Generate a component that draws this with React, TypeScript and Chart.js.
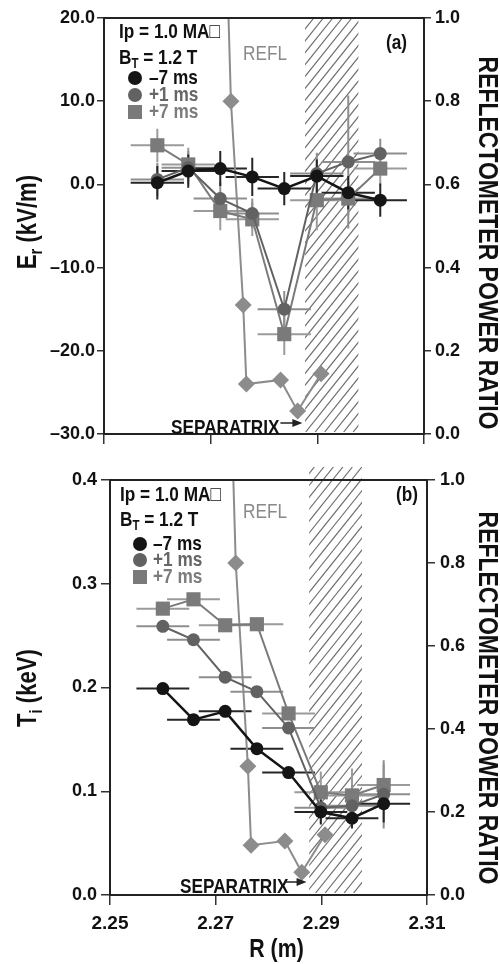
import React, { useEffect, useRef } from 'react';
import { Chart, registerables } from 'chart.js';

Chart.register(...registerables);

// ---------------- data ----------------
// major radius of the measurement channels (m)
const R_CHANNELS = [2.26, 2.2658, 2.2718, 2.2778, 2.2838, 2.2899, 2.2958, 2.3018];
const R_ERR = [0.005, 0.005, 0.005, 0.005, 0.005, 0.005, 0.005, 0.005];

// (a) radial electric field Er (kV/m)
const ER_M7 = [0.2, 1.6, 1.9, 0.9, -0.5, 1.0, -1.0, -1.9];
const ER_P1 = [0.6, 2.0, -1.7, -3.5, -15.0, 1.3, 2.7, 3.7];
const ER_P7 = [4.7, 2.4, -3.2, -4.2, -18.0, -1.9, -1.7, 1.9];
const ER_M7_ERR = [2.0, 2.0, 2.1, 2.3, 2.0, 2.0, 2.0, 2.0];
const ER_P1_ERR = [2.0, 2.0, 2.0, 1.8, 2.2, 2.5, 8.0, 1.8];
const ER_P7_ERR = [2.0, 2.0, 2.3, 2.0, 2.5, 3.6, 2.0, 2.0];

// (b) ion temperature Ti (keV)
const TI_M7 = [0.199, 0.169, 0.177, 0.141, 0.118, 0.08, 0.074, 0.088];
const TI_P1 = [0.259, 0.246, 0.21, 0.196, 0.161, 0.084, 0.086, 0.097];
const TI_P7 = [0.276, 0.285, 0.26, 0.261, 0.175, 0.099, 0.096, 0.106];
const TI_M7_ERR = [0.004, 0.004, 0.004, 0.004, 0.004, 0.012, 0.01, 0.018];
const TI_P1_ERR = [0.004, 0.004, 0.004, 0.004, 0.004, 0.015, 0.02, 0.033];
const TI_P7_ERR = [0.004, 0.004, 0.004, 0.004, 0.004, 0.02, 0.026, 0.02];

// reflectometer power ratio (right axis)
const REFL_R = [2.272, 2.2738, 2.2761, 2.2767, 2.2831, 2.2863, 2.2907];
const REFL_RATIO = [1.6, 0.8, 0.31, 0.12, 0.13, 0.055, 0.145];

// separatrix uncertainty band and arrow tip (m)
const SEPARATRIX_ZONE = [2.2877, 2.2977];
const SEPARATRIX_TIP = 2.2872;

// axes
const X_TICKS = [2.25, 2.27, 2.29, 2.31];
const X_TICK_LABELS = ['2.25', '2.27', '2.29', '2.31'];
const ER_TICKS = [-30, -20, -10, 0, 10, 20];
const ER_TICK_LABELS = ['\u201330.0', '\u201320.0', '\u201310.0', '0.0', '10.0', '20.0'];
const TI_TICKS = [0, 0.1, 0.2, 0.3, 0.4];
const TI_TICK_LABELS = ['0.0', '0.1', '0.2', '0.3', '0.4'];
const RATIO_TICKS = [0, 0.2, 0.4, 0.6, 0.8, 1.0];
const RATIO_TICK_LABELS = ['0.0', '0.2', '0.4', '0.6', '0.8', '1.0'];

const SERIES_LABELS = ['\u20137 ms', '+1 ms', '+7 ms'];

// ---------------- styles ----------------
const C_M7 = '#151515';
const C_P1 = '#626262';
const C_P7 = '#7a7a7a';
const C_REFL = '#8c8c8c';
const C_ERR_M7 = '#262626';
const C_ERR_P1 = '#8e8e8e';
const C_ERR_P7 = '#9b9b9b';

type FontInfo = { family: string; scaleX: number };
const FONT: FontInfo = { family: '"Liberation Sans", Arial, sans-serif', scaleX: 0.82 };

type Part = { t: string; sub?: boolean };

function drawRich(
  ctx: CanvasRenderingContext2D, fi: FontInfo, parts: Part[], x: number, y: number, size: number,
  o: { weight?: string; color?: string; align?: 'left' | 'center' | 'right'; rot?: number } = {}
) {
  const weight = o.weight ?? 'bold';
  ctx.save();
  ctx.translate(x, y);
  if (o.rot) ctx.rotate(o.rot);
  ctx.scale(fi.scaleX, 1);
  ctx.fillStyle = o.color ?? '#111';
  ctx.textBaseline = 'middle';
  ctx.textAlign = 'left';
  const fontFor = (p: Part) => `${weight} ${p.sub ? Math.round(size * 0.68) : size}px ${fi.family}`;
  let total = 0;
  const widths = parts.map((p) => { ctx.font = fontFor(p); const w = ctx.measureText(p.t).width; total += w; return w; });
  let cx = o.align === 'center' ? -total / 2 : o.align === 'right' ? -total : 0;
  parts.forEach((p, i) => {
    ctx.font = fontFor(p);
    ctx.fillText(p.t, cx, p.sub ? size * 0.3 : 0);
    cx += widths[i];
  });
  ctx.restore();
}

type Panel = {
  canvasH: number; padTop: number; leftW: number; rightW: number; xH: number;
  yMin: number; yMax: number; yTicks: number[]; yLabels: string[];
  m7: number[]; p1: number[]; p7: number[]; m7Err: number[]; p1Err: number[]; p7Err: number[];
  showX: boolean; yTickLen: number; yTickPad: number; y2TickLen: number; y2TickPad: number;
  hatchExt: number;
  tag: string; tagRight: number; tagY: number;
  legX: number; ipY: number; btY: number; legMarkX: number; legRows: number[]; legTextX: number;
  reflX: number; reflY: number;
  sepX: number; sepY: number;
  leftTitle: Part[]; leftTitleX: number; leftTitleY: number;
  rightTitleX: number; rightTitleY: number;
  xTitle: boolean;
};

const TOP: Panel = {
  canvasH: 460, padTop: 18, leftW: 104, rightW: 76, xH: 26,
  yMin: -30, yMax: 20, yTicks: ER_TICKS, yLabels: ER_TICK_LABELS,
  m7: ER_M7, p1: ER_P1, p7: ER_P7, m7Err: ER_M7_ERR, p1Err: ER_P1_ERR, p7Err: ER_P7_ERR,
  showX: false, yTickLen: 7, yTickPad: 2, y2TickLen: 7, y2TickPad: 4,
  hatchExt: 0,
  tag: '(a)', tagRight: 407, tagY: 43,
  legX: 119, ipY: 32, btY: 58, legMarkX: 135, legRows: [78, 95, 112], legTextX: 149,
  reflX: 243, reflY: 54,
  sepX: 171, sepY: 428,
  leftTitle: [{ t: 'E' }, { t: 'r', sub: true }, { t: ' (kV/m)' }], leftTitleX: 29, leftTitleY: 222,
  rightTitleX: 487, rightTitleY: 243,
  xTitle: false,
};

const BOTTOM: Panel = {
  canvasH: 504, padTop: 20, leftW: 110, rightW: 73, xH: 69,
  yMin: 0, yMax: 0.4, yTicks: TI_TICKS, yLabels: TI_TICK_LABELS,
  m7: TI_M7, p1: TI_P1, p7: TI_P7, m7Err: TI_M7_ERR, p1Err: TI_P1_ERR, p7Err: TI_P7_ERR,
  showX: true, yTickLen: 9, yTickPad: 4, y2TickLen: 8, y2TickPad: 5,
  hatchExt: 13,
  tag: '(b)', tagRight: 418, tagY: 35,
  legX: 120, ipY: 35, btY: 60, legMarkX: 140, legRows: [84, 100, 117], legTextX: 153,
  reflX: 243, reflY: 52,
  sepX: 180, sepY: 427,
  leftTitle: [{ t: 'T' }, { t: 'i', sub: true }, { t: ' (keV)' }], leftTitleX: 29, leftTitleY: 228,
  rightTitleX: 487, rightTitleY: 238,
  xTitle: true,
};

function decorPlugin(p: Panel, fi: FontInfo) {
  return {
    id: 'decor',
    beforeDatasetsDraw(chart: any) {
      const { ctx, chartArea: a, scales } = chart;
      const xs = scales.x;
      // hatched separatrix band
      const x1 = xs.getPixelForValue(SEPARATRIX_ZONE[0]);
      const x2 = xs.getPixelForValue(SEPARATRIX_ZONE[1]);
      const top = a.top - p.hatchExt;
      const bot = a.bottom - 2;
      const h = bot - top;
      ctx.save();
      ctx.beginPath();
      ctx.rect(x1, top, x2 - x1, h);
      ctx.clip();
      ctx.strokeStyle = '#707070';
      ctx.lineWidth = 1.2;
      ctx.beginPath();
      for (let k = x1 - h * 1.1; k < x2 + 10; k += 9.5) {
        ctx.moveTo(k, bot);
        ctx.lineTo(k + h * 0.8, top);
      }
      ctx.stroke();
      ctx.restore();
      // error bars
      ctx.save();
      ctx.lineWidth = 2;
      const ds = chart.data.datasets;
      for (let i = ds.length - 1; i >= 0; i--) {
        const d = ds[i];
        if (!d.yErr) continue;
        const ys = scales[d.yAxisID];
        ctx.strokeStyle = d.errColor;
        ctx.beginPath();
        d.data.forEach((pt: any, j: number) => {
          const px = xs.getPixelForValue(pt.x);
          const py = ys.getPixelForValue(pt.y);
          ctx.moveTo(xs.getPixelForValue(pt.x - d.xErr[j]), py);
          ctx.lineTo(xs.getPixelForValue(pt.x + d.xErr[j]), py);
          ctx.moveTo(px, ys.getPixelForValue(pt.y - d.yErr[j]));
          ctx.lineTo(px, ys.getPixelForValue(pt.y + d.yErr[j]));
        });
        ctx.stroke();
      }
      ctx.restore();
    },
    afterDatasetsDraw(chart: any) {
      const { ctx, chartArea: a, scales } = chart;
      const xs = scales.x;
      // frame
      ctx.save();
      ctx.strokeStyle = '#222';
      ctx.lineWidth = 2;
      ctx.strokeRect(a.left, a.top, a.right - a.left, a.bottom - a.top);
      ctx.restore();
      // parameters
      drawRich(ctx, fi, [{ t: 'Ip = 1.0 MA\u25A1' }], p.legX, p.ipY, 21);
      drawRich(ctx, fi, [{ t: 'B' }, { t: 'T', sub: true }, { t: ' = 1.2 T' }], p.legX, p.btY, 21);
      // legend
      const legColors = [C_M7, C_P1, C_P7];
      const legText = ['#111', '#666', '#7c7c7c'];
      p.legRows.forEach((yy, i) => {
        ctx.save();
        ctx.fillStyle = legColors[i];
        ctx.beginPath();
        if (i < 2) ctx.arc(p.legMarkX, yy, 7, 0, Math.PI * 2);
        else ctx.rect(p.legMarkX - 7, yy - 7, 14, 14);
        ctx.fill();
        ctx.restore();
        drawRich(ctx, fi, [{ t: SERIES_LABELS[i] }], p.legTextX, yy, 21, { color: legText[i] });
      });
      // labels
      drawRich(ctx, fi, [{ t: 'REFL' }], p.reflX, p.reflY, 21, { color: '#8a8a8a', weight: 'normal' });
      drawRich(ctx, fi, [{ t: p.tag }], p.tagRight, p.tagY, 21, { align: 'right' });
      // separatrix arrow
      drawRich(ctx, fi, [{ t: 'SEPARATRIX' }], p.sepX, p.sepY, 21);
      const tip = xs.getPixelForValue(SEPARATRIX_TIP);
      const ay = p.sepY - 5;
      ctx.save();
      ctx.strokeStyle = '#222';
      ctx.fillStyle = '#222';
      ctx.lineWidth = 1.5;
      ctx.beginPath();
      ctx.moveTo(tip - 22, ay);
      ctx.lineTo(tip - 8, ay);
      ctx.stroke();
      ctx.beginPath();
      ctx.moveTo(tip, ay);
      ctx.lineTo(tip - 10, ay - 4);
      ctx.lineTo(tip - 10, ay + 4);
      ctx.closePath();
      ctx.fill();
      ctx.restore();
      // axis titles
      drawRich(ctx, fi, p.leftTitle, p.leftTitleX, p.leftTitleY, 27, { align: 'center', rot: -Math.PI / 2 });
      drawRich(ctx, fi, [{ t: 'REFLECTOMETER POWER RATIO' }], p.rightTitleX, p.rightTitleY, 28, { align: 'center', rot: Math.PI / 2 });
      if (p.xTitle) {
        drawRich(ctx, fi, [{ t: 'R (m)' }], (a.left + a.right) / 2 + 8, p.canvasH - 14, 26, { align: 'center' });
      }
    },
  };
}

function makeConfig(p: Panel, fi: FontInfo): any {
  const tickFont = (size: number) => ({ family: fi.family, size, weight: 'bold' });
  const grid = (len: number) => ({ drawOnChartArea: false, drawTicks: true, tickLength: len, color: '#333', lineWidth: 1.5 });
  const series = (label: string, vals: number[], errs: number[], color: string, errColor: string, style: string, radius: number, bw: number) => ({
    label,
    data: R_CHANNELS.map((x, i) => ({ x, y: vals[i] })),
    xErr: R_ERR,
    yErr: errs,
    errColor,
    yAxisID: 'y',
    showLine: true,
    borderColor: color,
    backgroundColor: color,
    borderWidth: bw,
    pointStyle: style,
    pointRadius: radius,
    pointBorderWidth: 0,
    pointBackgroundColor: color,
    tension: 0,
  });
  const datasets = [
    series(SERIES_LABELS[0], p.m7, p.m7Err, C_M7, C_ERR_M7, 'circle', 6.5, 2.5),
    series(SERIES_LABELS[1], p.p1, p.p1Err, C_P1, C_ERR_P1, 'circle', 6.5, 2),
    series(SERIES_LABELS[2], p.p7, p.p7Err, C_P7, C_ERR_P7, 'rect', 10, 2),
    {
      label: 'REFL',
      data: REFL_R.map((x, i) => ({ x, y: REFL_RATIO[i] })),
      yAxisID: 'y2',
      showLine: true,
      borderColor: C_REFL,
      backgroundColor: C_REFL,
      borderWidth: 2,
      pointStyle: 'rectRot',
      pointRadius: 8.5,
      pointBorderWidth: 0,
      tension: 0,
    },
  ];
  return {
    type: 'scatter',
    data: { datasets },
    options: {
      animation: false,
      responsive: false,
      devicePixelRatio: 1,
      layout: { padding: { top: p.padTop, left: 0, right: 0, bottom: 0 } },
      plugins: { legend: { display: false }, tooltip: { enabled: false } },
      scales: {
        x: {
          type: 'linear',
          position: 'bottom',
          min: 2.25,
          max: 2.31,
          afterBuildTicks: (s: any) => { s.ticks = X_TICKS.map((v) => ({ value: v })); },
          afterFit: (s: any) => { s.height = p.xH; },
          ticks: { display: p.showX, callback: (_v: any, i: number) => X_TICK_LABELS[i], font: tickFont(19), color: '#111', padding: 7, maxRotation: 0, autoSkip: false },
          grid: grid(10),
          border: { display: false },
        },
        y: {
          type: 'linear',
          position: 'left',
          min: p.yMin,
          max: p.yMax,
          afterBuildTicks: (s: any) => { s.ticks = p.yTicks.map((v) => ({ value: v })); },
          afterFit: (s: any) => { s.width = p.leftW; },
          ticks: { callback: (_v: any, i: number) => p.yLabels[i], font: tickFont(18), color: '#111', padding: p.yTickPad, autoSkip: false },
          grid: grid(p.yTickLen),
          border: { display: false },
        },
        y2: {
          type: 'linear',
          position: 'right',
          min: 0,
          max: 1,
          afterBuildTicks: (s: any) => { s.ticks = RATIO_TICKS.map((v) => ({ value: v })); },
          afterFit: (s: any) => { s.width = p.rightW; },
          ticks: { callback: (_v: any, i: number) => RATIO_TICK_LABELS[i], font: tickFont(18), color: '#111', padding: p.y2TickPad, autoSkip: false },
          grid: grid(p.y2TickLen),
          border: { display: false },
        },
      },
    },
    plugins: [decorPlugin(p, fi)],
  };
}

export default function App() {
  const topRef = useRef<HTMLCanvasElement>(null);
  const botRef = useRef<HTMLCanvasElement>(null);
  useEffect(() => {
    const c1 = new Chart(topRef.current!, makeConfig(TOP, FONT));
    const c2 = new Chart(botRef.current!, makeConfig(BOTTOM, FONT));
    return () => {
      c1.destroy();
      c2.destroy();
    };
  }, []);
  return (
    <div style={{ position: 'absolute', left: 0, top: 0, width: 500, height: 964, background: '#fff' }}>
      <canvas ref={topRef} width={500} height={460} style={{ position: 'absolute', left: 0, top: 0, width: 500, height: 460 }} />
      <canvas ref={botRef} width={500} height={504} style={{ position: 'absolute', left: 0, top: 460, width: 500, height: 504 }} />
    </div>
  );
}
